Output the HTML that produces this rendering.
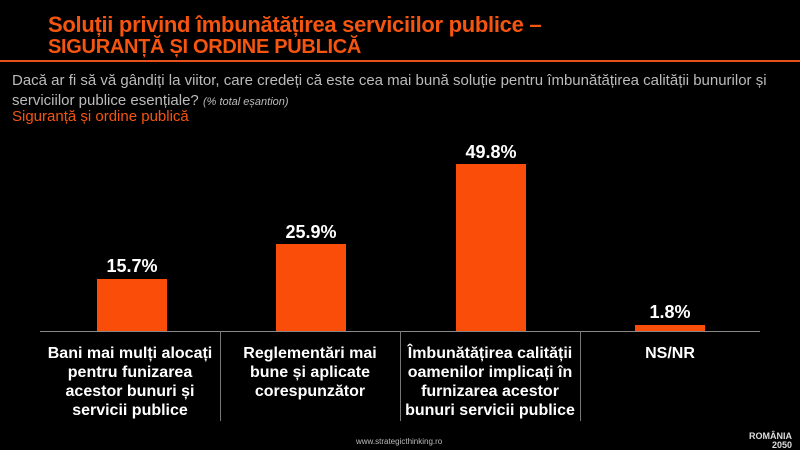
<!DOCTYPE html>
<html><head><meta charset="utf-8"><style>
body{margin:0;width:800px;height:450px;background:#000;overflow:hidden;position:relative;font-family:"Liberation Sans",sans-serif}
.a{position:absolute;white-space:nowrap}
.t{color:#f5550f;font-weight:bold;font-size:22px;left:48px;letter-spacing:-0.3px}
.bar{position:absolute;background:#fa4d0a;width:70px;bottom:119px}
.v{position:absolute;color:#fff;font-weight:bold;font-size:18px;width:180px;text-align:center}
.c{position:absolute;color:#fff;font-weight:bold;font-size:16px;width:180px;text-align:center;top:344px;line-height:19px;white-space:nowrap}
.sep{position:absolute;top:331px;width:1px;height:90px;background:#777}
</style></head><body>
<div class="a t" style="top:12px">Soluții privind îmbunătățirea serviciilor publice –</div>
<div class="a t" style="top:36px;font-size:20px">SIGURANȚĂ ȘI ORDINE PUBLICĂ</div>
<div class="a" style="top:60px;left:0;width:800px;height:2px;background:#e8501a"></div>
<div class="a" style="top:71px;left:12px;color:#bbb;font-size:15px;line-height:20px">Dacă ar fi să vă gândiți la viitor, care credeți că este cea mai bună soluție pentru îmbunătățirea calității bunurilor și<br>serviciilor publice esențiale? <i style="font-size:11px">(% total eșantion)</i></div>
<div class="a" style="top:108px;left:12px;color:#f5550f;font-size:15px">Siguranță și ordine publică</div>
<div class="a" style="top:331px;left:40px;width:720px;height:1px;background:#888"></div>
<div class="sep" style="left:220px"></div><div class="sep" style="left:400px"></div><div class="sep" style="left:580px"></div>
<div class="bar" style="left:97px;height:52px"></div>
<div class="bar" style="left:276px;height:87px"></div>
<div class="bar" style="left:456px;height:167px"></div>
<div class="bar" style="left:635px;height:6px"></div>
<div class="v" style="left:42px;top:256px">15.7%</div>
<div class="v" style="left:221px;top:222px">25.9%</div>
<div class="v" style="left:401px;top:142px">49.8%</div>
<div class="v" style="left:580px;top:302px">1.8%</div>
<div class="c" style="left:40px">Bani mai mulți alocați<br>pentru funizarea<br>acestor bunuri și<br>servicii publice</div>
<div class="c" style="left:220px">Reglementări mai<br>bune și aplicate<br>corespunzător</div>
<div class="c" style="left:400px">Îmbunătățirea calității<br>oamenilor implicați în<br>furnizarea acestor<br>bunuri servicii publice</div>
<div class="c" style="left:580px">NS/NR</div>
<div class="a" style="top:437px;left:356px;color:#bbb;font-size:8px">www.strategicthinking.ro</div>
<div class="a" style="top:432px;left:748px;color:#ddd;font-size:9px;font-weight:bold;line-height:9px;text-align:right;width:44px">ROMÂNIA<br>2050</div>
</body></html>
